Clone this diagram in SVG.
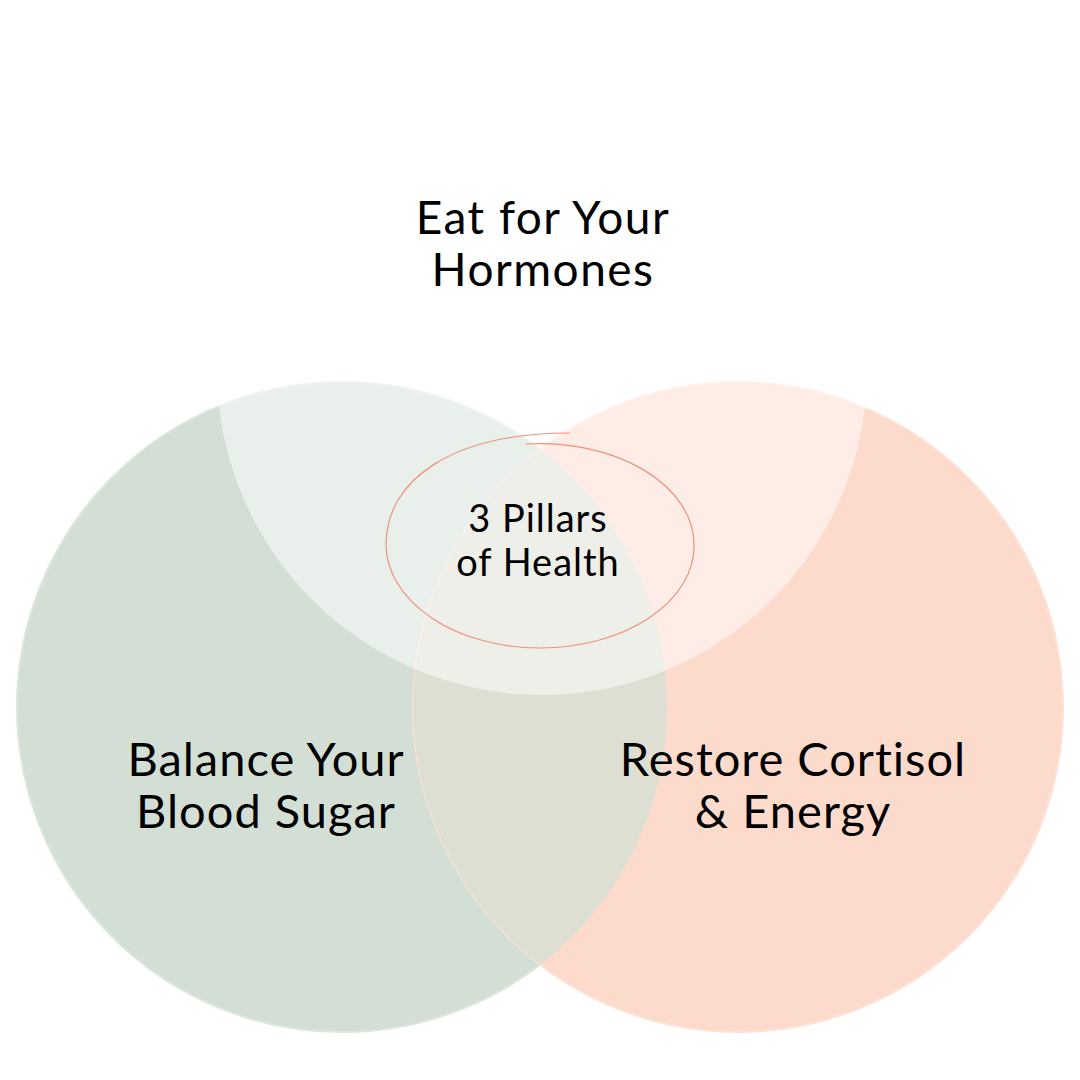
<svg xmlns="http://www.w3.org/2000/svg" width="1080" height="1080" viewBox="0 0 1080 1080">
<style>
.t{font-family:Lato,"Liberation Sans",sans-serif;fill:#000;text-anchor:middle}
</style>
<defs>
<clipPath id="clipL"><circle cx="342" cy="707" r="325"/></clipPath>
</defs>
<rect width="1080" height="1080" fill="#fff"/>
<g id="circle-left"><circle cx="342" cy="707" r="325" fill="#d3dfd5" stroke="#dce6dd" stroke-width="2"/></g>
<g id="circle-right"><circle cx="738" cy="707" r="325" fill="#fddbcc" stroke="#fde3d7" stroke-width="2"/></g>
<g id="overlap"><circle cx="738" cy="707" r="325" fill="#dcdfd2" clip-path="url(#clipL)"/></g>
<g id="circle-top"><circle cx="542" cy="370" r="325" fill="#fff" fill-opacity="0.5"/></g>
<g id="center-ellipse"><path d="M 526 444 A 154 101 0 0 1 694 545 A 154 102 0 0 1 540 648 A 154 104 0 0 1 386 545 C 386 478, 455 433, 570 433" fill="none" stroke="#f0907a" stroke-width="1.2"/></g>
<g id="title"><text class="t" x="543" y="234" font-size="46" letter-spacing="1.5">Eat for Your</text><text class="t" x="543" y="286" font-size="46" letter-spacing="1.5">Hormones</text></g>
<g id="center-label"><text class="t" x="538" y="532" font-size="38" letter-spacing="1">3 Pillars</text><text class="t" x="538" y="576" font-size="38" letter-spacing="1">of Health</text></g>
<g id="left-label"><text class="t" x="266" y="776" font-size="47" letter-spacing="1">Balance Your</text><text class="t" x="266" y="828" font-size="47" letter-spacing="1">Blood Sugar</text></g>
<g id="right-label"><text class="t" x="793" y="776" font-size="47" letter-spacing="1">Restore Cortisol</text><text class="t" x="793" y="828" font-size="47" letter-spacing="1">&amp; Energy</text></g>
</svg>
